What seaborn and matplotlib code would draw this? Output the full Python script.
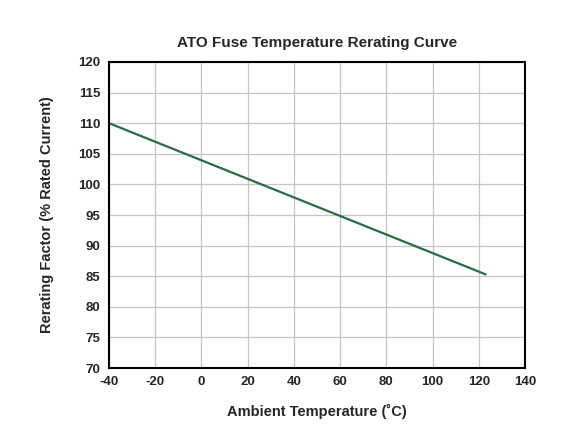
import matplotlib
matplotlib.use("Agg")
import matplotlib.pyplot as plt
import seaborn as sns
import pandas as pd

temps = [-40, 123]
rerating = [110, 85.3]
x_ticks = [-40, -20, 0, 20, 40, 60, 80, 100, 120, 140]
y_ticks = [70, 75, 80, 85, 90, 95, 100, 105, 110, 115, 120]

sns.set_theme(style="white")
plt.rcParams['font.family'] = ['Liberation Sans', 'DejaVu Sans']
plt.rcParams['axes.unicode_minus'] = False

df = pd.DataFrame({"t": temps, "r": rerating})
fig = plt.figure(figsize=(5.74, 4.32), dpi=100)
ax = fig.add_axes([0.19, 0.148, 0.7246, 0.7085])
sns.lineplot(data=df, x="t", y="r", ax=ax, color="#2a6b47", linewidth=1.6)
ax.set_xlim(-40, 140)
ax.set_ylim(70, 120)
ax.set_xticks(x_ticks)
ax.set_yticks(y_ticks)
ax.grid(True, color="#c4c4c4", linewidth=0.9)
ax.set_axisbelow(True)
for s in ax.spines.values():
    s.set_color("black")
    s.set_linewidth(1.5)
ax.tick_params(length=0, pad=6, labelsize=9.5)
for lab in ax.get_xticklabels() + ax.get_yticklabels():
    lab.set_fontweight("bold")
ax.set_xlabel("Ambient Temperature (˚C)", fontsize=10.5, fontweight="bold", labelpad=11)
ax.set_ylabel("Rerating Factor (% Rated Current)", fontsize=10.5, fontweight="bold", labelpad=18)
ax.set_title("ATO Fuse Temperature Rerating Curve", fontsize=11, fontweight="bold", pad=11)
fig.savefig("out.png", dpi=100)
